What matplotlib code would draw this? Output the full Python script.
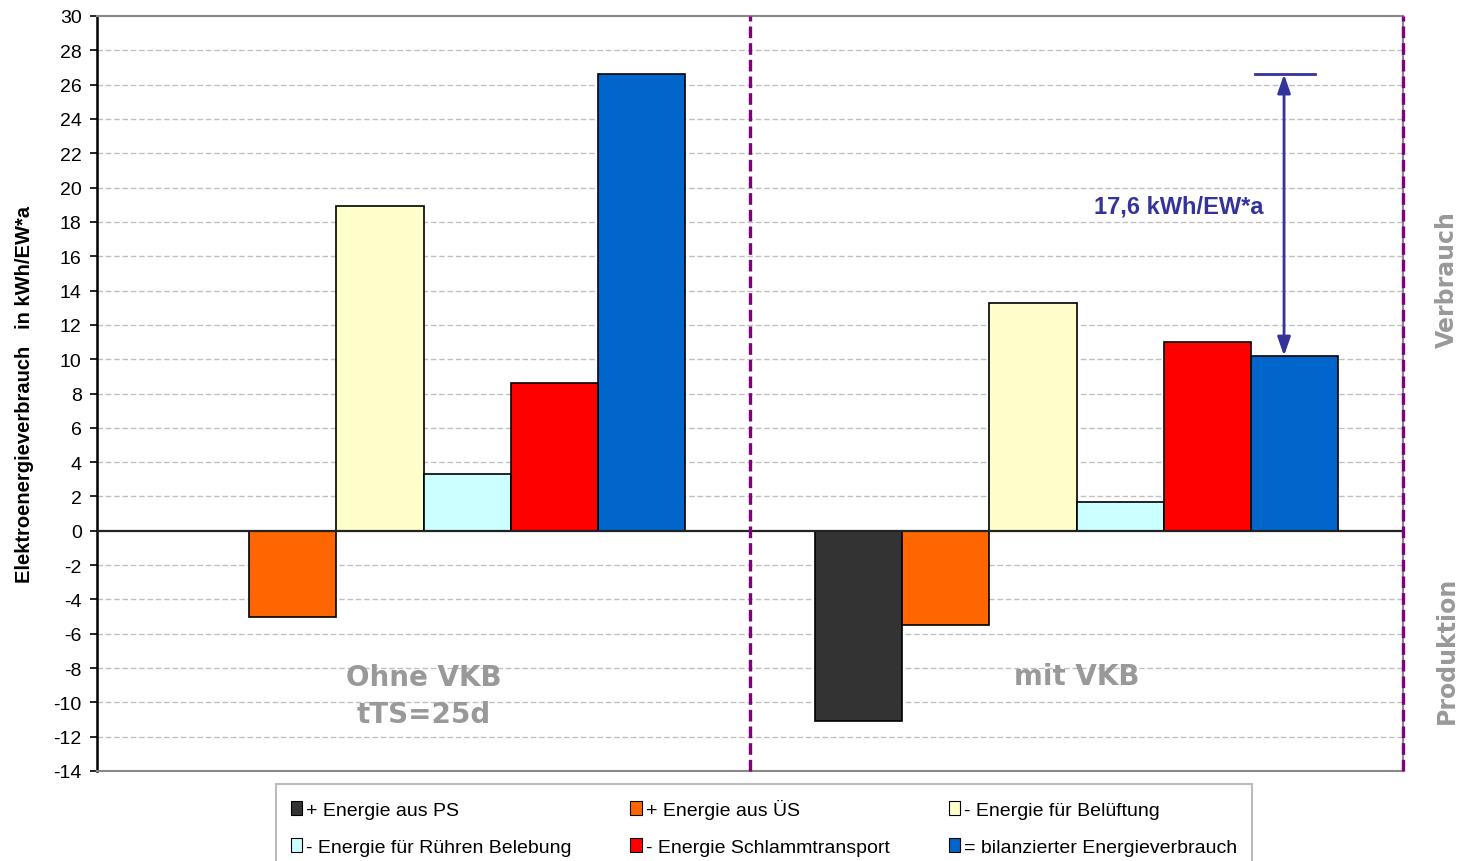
import numpy as np
import matplotlib.pyplot as plt
from matplotlib.patches import Patch

plt.rcParams['font.family'] = ['Liberation Sans', 'DejaVu Sans']
plt.rcParams['axes.unicode_minus'] = False

# two scenarios, six energy terms each (kWh/EW*a)
szenarien = ['Ohne VKB\ntTS=25d', 'mit VKB']
reihen = ['+ Energie aus PS', '+ Energie aus ÜS', '- Energie für Belüftung',
          '- Energie für Rühren Belebung', '- Energie Schlammtransport',
          '= bilanzierter Energieverbrauch']
farben = ['#333333', '#FF6600', '#FFFFCC', '#CCFFFF', '#FF0000', '#0066CC']
werte = [
    [0.0, -11.1],   # PS
    [-5.0, -5.5],   # ÜS
    [18.9, 13.3],   # Belüftung
    [3.3, 1.7],     # Rühren
    [8.6, 11.0],    # Schlammtransport
    [26.6, 10.2],   # bilanziert
]
differenz_text = '17,6 kWh/EW*a'
yticks = np.arange(-14, 31, 2)

fig = plt.figure(figsize=(14.6, 8.62), dpi=100)
ax = fig.add_axes([97/1460, 1-772/862, 1306/1460, 755/862])

x = np.arange(len(szenarien))
w = 0.8 / len(reihen)
for i, (name, farbe, vals) in enumerate(zip(reihen, farben, werte)):
    ax.bar(x + (i - 2.5) * w, vals, w, color=farbe, edgecolor='black',
           linewidth=1.2, zorder=3)

ax.set_xlim(-0.5, 1.5)
ax.set_ylim(-14, 30)
ax.set_yticks(yticks)
ax.tick_params(axis='y', labelsize=14, direction='out', length=5, width=1.2,
               pad=6)
ax.set_xticks([])
for t in yticks:
    if t not in (0, -14, 30):
        ax.axhline(t, color='#c0c0c0', ls=(0, (4, 2)), lw=1, zorder=1)
ax.axhline(0, color='#222222', lw=1.6, zorder=4)
ax.vlines([0.5, 1.5], 0, -0.3, color='black', lw=1.2, zorder=4)

for s in ['top', 'bottom', 'right']:
    ax.spines[s].set_color('#888888')
    ax.spines[s].set_linewidth(1.5)
ax.spines['left'].set_color('black')
ax.spines['left'].set_linewidth(1.8)

# separator between scenarios
for xv in (0.5, 1.5):
    ax.axvline(xv, color='#800080', ls=(0, (3.5, 1.5)), lw=2.4, zorder=5,
               clip_on=False)

ax.set_ylabel('Elektroenergieverbrauch   in kWh/EW*a', fontsize=14.5,
              fontweight='bold', labelpad=14)

# scenario labels inside the plot
ax.text(x[0], -9.6, szenarien[0], ha='center', va='center', fontsize=20,
        fontweight='heavy', color='#999999', family='DejaVu Sans',
        linespacing=1.45)
ax.text(x[1], -8.45, szenarien[1], ha='center', va='center', fontsize=20,
        fontweight='heavy', color='#999999', family='DejaVu Sans')

# difference between the balanced consumption of both scenarios
xa = x[1] + 2.5 * w - 0.0155
bil = werte[5]
ax.annotate('', xy=(xa, bil[1]), xytext=(xa, bil[0]),
            arrowprops=dict(arrowstyle='<|-|>,head_length=0.8,head_width=0.28',
                            color='#333399', lw=2, mutation_scale=14,
                            shrinkA=0, shrinkB=0),
            zorder=6)
ax.plot([xa - 0.044, xa + 0.047], [bil[0], bil[0]], color='#333399', lw=2,
        zorder=6)
ax.text(xa - 0.161, 18.95, differenz_text, ha='center', va='center',
        fontsize=17, fontweight='bold', color='#333399')

fig.text(1447/1460, 1-280/862, 'Verbrauch', rotation=90, ha='center',
         va='center', fontsize=17, fontweight='bold', color='#999999',
         family='DejaVu Sans')
fig.text(1447/1460, 1-650/862, 'Produktion', rotation=90, ha='center',
         va='center', fontsize=17, fontweight='bold', color='#999999',
         family='DejaVu Sans')

# legend filled row by row (matplotlib fills column by column)
reihenfolge = [0, 3, 1, 4, 2, 5]
handles = [Patch(facecolor=farben[k], edgecolor='black', lw=0.8)
           for k in reihenfolge]
labels = [reihen[k] for k in reihenfolge]
top = 1 - 785/862
leg = fig.legend(handles, labels, ncol=3, loc='upper left',
                 bbox_to_anchor=(276/1460, top - 0.2, 976/1460, 0.2),
                 mode='expand', frameon=True, fancybox=False,
                 edgecolor='#aaaaaa', handlelength=0.6, handleheight=0.7,
                 handletextpad=0.2, labelspacing=1.0, borderpad=0.75,
                 borderaxespad=0,
                 prop={'family': ['Liberation Sans Narrow', 'Liberation Sans'],
                       'size': 14})
leg.get_frame().set_linewidth(1.5)

fig.savefig('out.png', dpi=100)
